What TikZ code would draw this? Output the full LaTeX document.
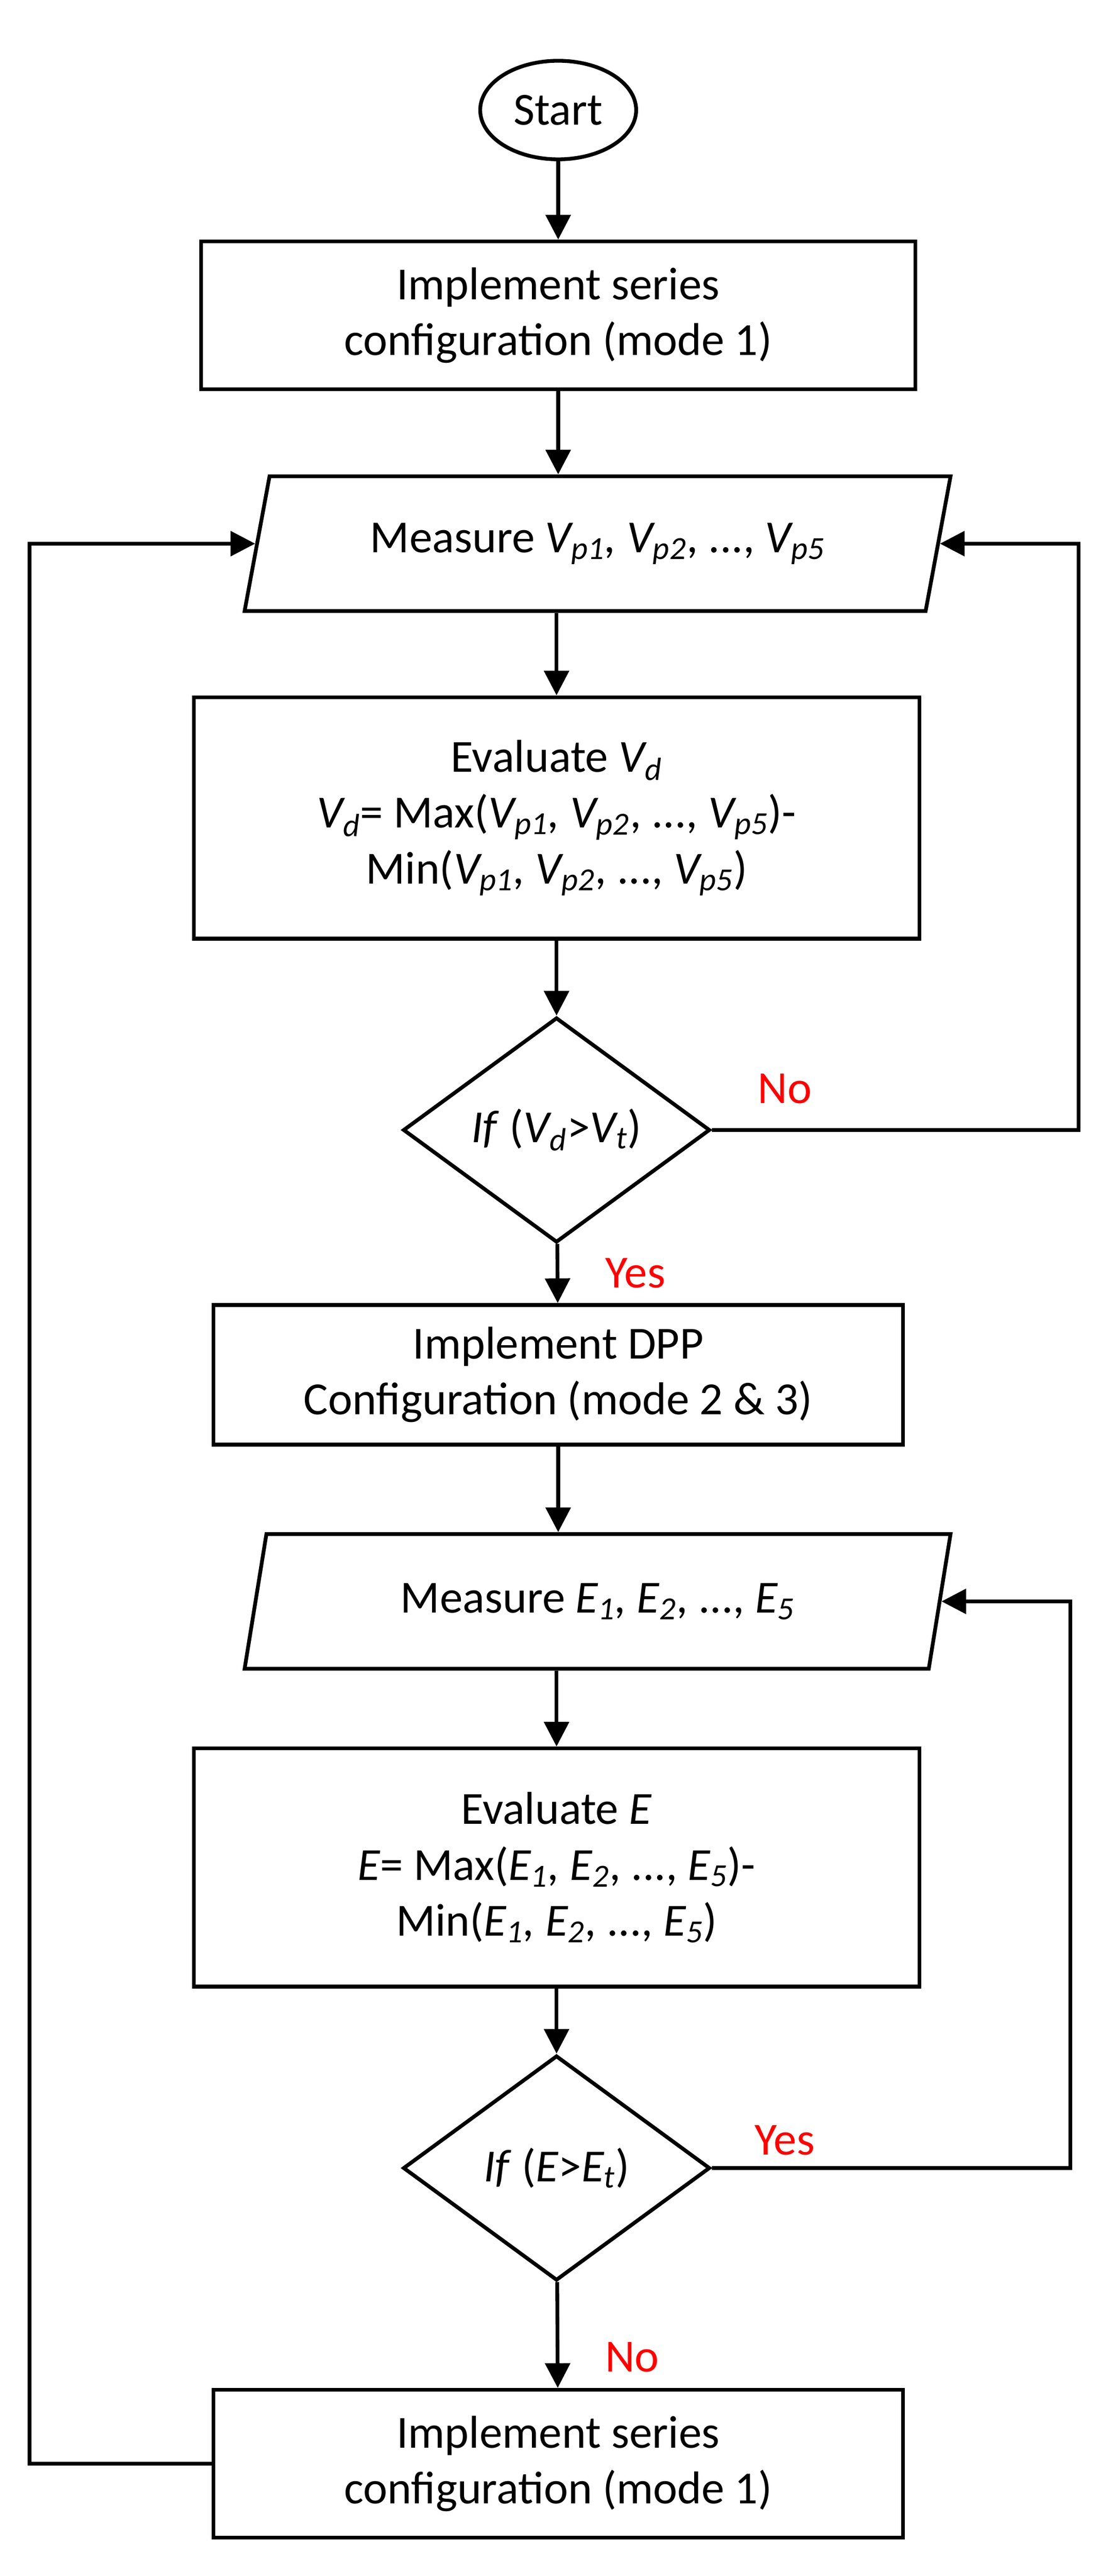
\documentclass[tikz,border=0pt]{standalone}
\usepackage{fontspec}
\setmainfont{Carlito}
\usetikzlibrary{shapes.geometric,arrows.meta}
\begin{document}
\begin{tikzpicture}[x=1pt,y=-1pt,
  every node/.style={font=\fontsize{28}{34}\selectfont},
  box/.style={draw,line width=2.3pt,align=center,minimum width=435,inner sep=0},
  para/.style={draw,line width=2.3pt,trapezium,trapezium left angle=59,trapezium right angle=121,trapezium stretches body,minimum width=430,minimum height=82,inner sep=0},
  dia/.style={draw,line width=2.3pt,diamond,aspect=1.36,minimum width=187,minimum height=137,inner sep=0},
  arr/.style={line width=2.3pt,-{Triangle[length=15,width=15]}},
  lab/.style={text=red}]
\useasboundingbox (0,0) rectangle (670.4,1568.4);
\node[draw,line width=2.3pt,ellipse,minimum width=95,minimum height=60] (s) at (340,67) {Start};
\node[box,minimum height=90] (b1) at (340,192) {Implement series\\configuration (mode 1)};
\node[para] (p1) at (364,331) {Measure \textit{V\textsubscript{p1}, V\textsubscript{p2}}, ..., \textit{V\textsubscript{p5}}};
\node[box,minimum width=442,minimum height=147] (b2) at (339,498) {Evaluate \textit{V\textsubscript{d}}\\\textit{V\textsubscript{d}}= Max(\textit{V\textsubscript{p1}, V\textsubscript{p2}}, ..., \textit{V\textsubscript{p5}})-\\Min(\textit{V\textsubscript{p1}, V\textsubscript{p2}}, ..., \textit{V\textsubscript{p5}})};
\node[dia] (d1) at (339,688) {\textit{If} (\textit{V\textsubscript{d}}>\textit{V\textsubscript{t}})};
\node[box,minimum width=420,minimum height=85] (b3) at (340,837) {Implement DPP\\Configuration (mode 2 \& 3)};
\node[para] (p2) at (364,975) {Measure \textit{E\textsubscript{1}, E\textsubscript{2}}, ..., \textit{E\textsubscript{5}}};
\node[box,minimum width=442,minimum height=145] (b4) at (339,1137) {Evaluate \textit{E}\\\textit{E}= Max(\textit{E\textsubscript{1}, E\textsubscript{2}}, ..., \textit{E\textsubscript{5}})-\\Min(\textit{E\textsubscript{1}, E\textsubscript{2}}, ..., \textit{E\textsubscript{5}})};
\node[dia] (d2) at (339,1320) {\textit{If} (\textit{E}>\textit{E\textsubscript{t}})};
\node[box,minimum width=420,minimum height=90] (b5) at (340,1500) {Implement series\\configuration (mode 1)};
\node[lab] (no1) at (478,663) {No};
\node[lab] (yes1) at (387,775) {Yes};
\node[lab] (yes2) at (478,1303) {Yes};
\node[lab] (no2) at (385,1435) {No};
\coordinate (r1a) at (657,688); \coordinate (r1b) at (657,331);
\coordinate (r2a) at (652,1320); \coordinate (r2b) at (652,975);
\coordinate (l1) at (18,1500); \coordinate (l2) at (18,331);
\draw[arr] (s) -- (b1);
\draw[arr] (b1) -- (b1|-p1.north);
\draw[arr] (p1.south-|b2) -- (b2);
\draw[arr] (b2) -- (d1);
\draw[arr] (d1) -- (b3);
\draw[arr] (b3) -- (b3|-p2.north);
\draw[arr] (p2.south-|b4) -- (b4);
\draw[arr] (b4) -- (d2);
\draw[arr] (d2) -- (b5);
\draw[arr] (d1.east) -- (r1a) -- (r1b) -- (p1.east);
\draw[arr] (d2.east) -- (r2a) -- (r2b) -- (p2.east);
\draw[arr] (b5.west) -- (l1) -- (l2) -- (p1.west);
\end{tikzpicture}
\end{document}
